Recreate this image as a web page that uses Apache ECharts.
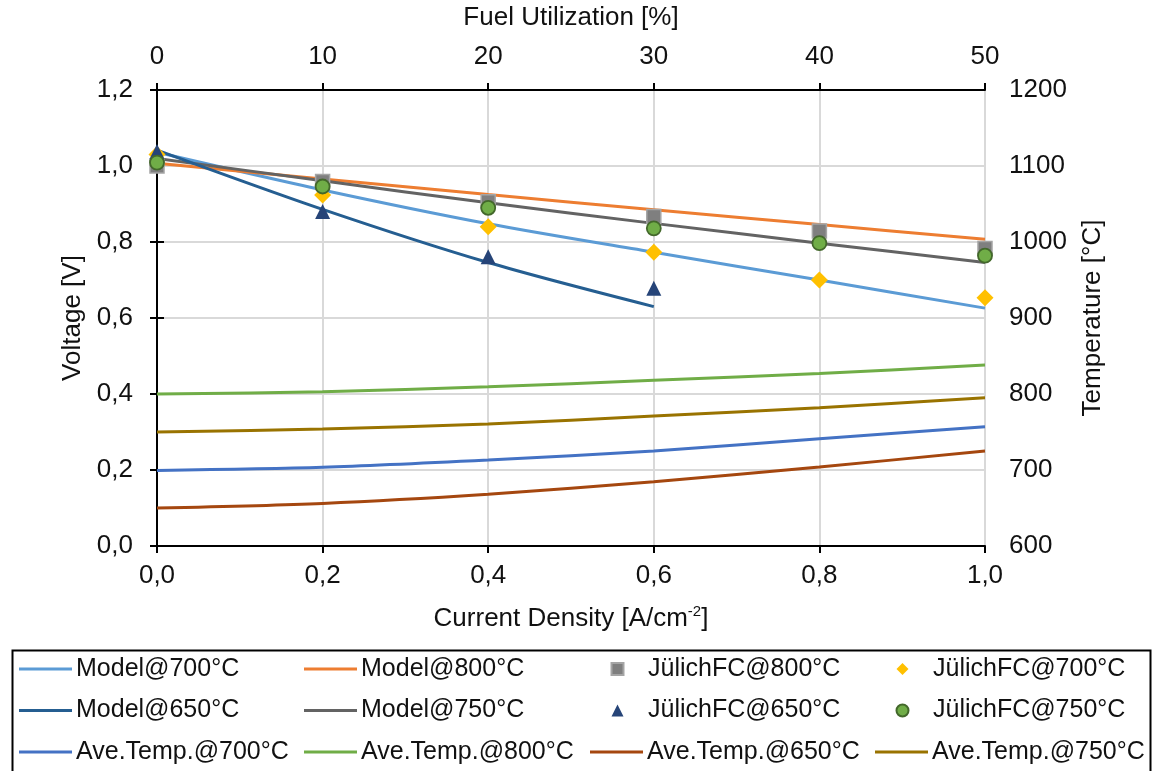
<!DOCTYPE html>
<html>
<head>
<meta charset="utf-8">
<script src="https://cdn.jsdelivr.net/npm/echarts@6/dist/echarts.min.js"></script>
<style>
  html, body { margin: 0; padding: 0; background: #fff; }
  #chart { width: 1158px; height: 771px; }
</style>
</head>
<body>
<div id="chart"></div>
<script>
// ---- Data ----
const currentDensity = [0, 0.2, 0.4, 0.6, 0.8, 1.0];
const currentDensity650 = [0, 0.2, 0.4, 0.6];

const model700 = [1.036, 0.937, 0.848, 0.773, 0.700, 0.626];
const model800 = [1.007, 0.966, 0.925, 0.885, 0.846, 0.807];
const model650 = [1.042, 0.886, 0.746, 0.630];
const model750 = [1.020, 0.961, 0.903, 0.849, 0.797, 0.746];

const julich800 = [1.000, 0.959, 0.906, 0.867, 0.829, 0.783];
const julich700 = [1.030, 0.924, 0.840, 0.773, 0.700, 0.653];
const julich650 = [1.038, 0.880, 0.761, 0.678];
const julich750 = [1.009, 0.946, 0.890, 0.836, 0.797, 0.764];

const aveTemp700 = [699.5, 703.5, 713, 725, 741, 757];
const aveTemp800 = [800, 803, 809.5, 818, 827, 838];
const aveTemp650 = [650, 656, 668, 684.5, 704, 725];
const aveTemp750 = [750, 754, 760.5, 771, 782, 795];

const xTicks = { min: 0, max: 1.0, interval: 0.2 };
const topTicks = { min: 0, max: 50, interval: 10 };
const leftTicks = { min: 0, max: 1.2, interval: 0.2 };
const rightTicks = { min: 600, max: 1200, interval: 100 };

// ---- Helpers ----
const pairs = (xs, ys) => ys.map((y, i) => [xs[i], y]);
const comma1 = v => v.toFixed(1).replace('.', ',');
const plain = v => String(Math.round(v));
const FONT = 'Liberation Sans, Arial, Helvetica, sans-serif';
const TXT = '#111';
const LINE_ICON = 'path://M0,0H53V3H0Z';

const axisLine = { show: true, lineStyle: { color: '#000', width: 2 } };
const axisTick = { show: true, inside: false, length: 7, lineStyle: { color: '#000', width: 2 } };

function lineSeries(name, xs, ys, color, yAxisIndex) {
  return {
    name, type: 'line', xAxisIndex: 0, yAxisIndex: yAxisIndex,
    data: pairs(xs, ys), symbol: 'none', smooth: 0.3,
    lineStyle: { color, width: 3 }, itemStyle: { color },
    z: 2
  };
}
function scatterSeries(name, xs, ys, symbol, size, color, border, bw) {
  return {
    name, type: 'scatter', xAxisIndex: 0, yAxisIndex: 0,
    data: pairs(xs, ys), symbol, symbolSize: size,
    itemStyle: { color, borderColor: border || color, borderWidth: bw || 0, opacity: 1 },
    z: 5
  };
}

const series = [
  lineSeries('Ave.Temp.@700°C', currentDensity, aveTemp700, '#4472C4', 1),
  lineSeries('Ave.Temp.@800°C', currentDensity, aveTemp800, '#70AD47', 1),
  lineSeries('Ave.Temp.@650°C', currentDensity, aveTemp650, '#A5470F', 1),
  lineSeries('Ave.Temp.@750°C', currentDensity, aveTemp750, '#997300', 1),
  lineSeries('Model@700°C', currentDensity, model700, '#5B9BD5', 0),
  lineSeries('Model@800°C', currentDensity, model800, '#ED7D31', 0),
  lineSeries('Model@750°C', currentDensity, model750, '#636363', 0),
  lineSeries('Model@650°C', currentDensity650, model650, '#255E91', 0),
  scatterSeries('JülichFC@800°C', currentDensity, julich800, 'rect', 14, '#7F7F7F', '#A5A5A5', 1.5),
  scatterSeries('JülichFC@700°C', currentDensity, julich700, 'diamond', 17, '#FFC000'),
  scatterSeries('JülichFC@650°C', currentDensity650, julich650, 'triangle', 15, '#264478'),
  scatterSeries('JülichFC@750°C', currentDensity, julich750, 'circle', 14, '#70AD47', '#43682B', 1.8)
];

const ROW_TOP = 654, ROW_STEP = 41.5;
const legendText = { fontFamily: FONT, fontSize: 25, color: TXT, lineHeight: 30 };

function lineLegend(left, top, names) {
  return {
    orient: 'vertical', left: left, top: top,
    itemWidth: 53, itemHeight: 12, itemGap: ROW_STEP - 30,
    selectedMode: false, padding: 0,
    textStyle: Object.assign({}, legendText, { padding: [0, 0, 0, -1] }),
    data: names.map(n => ({ name: n, icon: LINE_ICON }))
  };
}
function markerLegend(left, top, items) {
  return {
    orient: 'vertical', left: left + (53 - 12) / 2, top: top,
    itemWidth: 12, itemHeight: 12, itemGap: ROW_STEP - 30,
    selectedMode: false, padding: 0,
    textStyle: Object.assign({}, legendText, { padding: [0, 0, 0, (53 - 12) / 2 - 1] }),
    data: items.map(it => ({ name: it[0], icon: it[1] }))
  };
}

const option = {
  animation: false,
  backgroundColor: '#fff',
  grid: { left: 157, right: 173, top: 90, bottom: 225, containLabel: false },
  legend: [
    lineLegend(19, ROW_TOP, ['Model@700°C', 'Model@650°C', 'Ave.Temp.@700°C']),
    lineLegend(304, ROW_TOP, ['Model@800°C', 'Model@750°C', 'Ave.Temp.@800°C']),
    markerLegend(590, ROW_TOP, [['JülichFC@800°C', 'rect'], ['JülichFC@650°C', 'triangle']]),
    lineLegend(590, ROW_TOP + 2 * ROW_STEP, ['Ave.Temp.@650°C']),
    markerLegend(875, ROW_TOP, [['JülichFC@700°C', 'diamond'], ['JülichFC@750°C', 'circle']]),
    lineLegend(875, ROW_TOP + 2 * ROW_STEP, ['Ave.Temp.@750°C'])
  ],
  xAxis: [
    {
      type: 'value', position: 'bottom', min: xTicks.min, max: xTicks.max, interval: xTicks.interval,
      axisLine, axisTick,
      axisLabel: { formatter: comma1, fontFamily: FONT, fontSize: 26, color: TXT, margin: 17 },
      splitLine: { show: true, lineStyle: { color: '#D9D9D9', width: 2 } },
      name: 'Current Density [A/cm{sup|-2}]', nameLocation: 'middle', nameGap: 58,
      nameTextStyle: {
        fontFamily: FONT, fontSize: 26, color: TXT, lineHeight: 30,
        rich: { sup: { fontFamily: FONT, fontSize: 15, lineHeight: 17, verticalAlign: 'top', color: TXT } }
      }
    },
    {
      type: 'value', position: 'top', min: topTicks.min, max: topTicks.max, interval: topTicks.interval,
      axisLine, axisTick,
      axisLabel: { formatter: plain, fontFamily: FONT, fontSize: 26, color: TXT, margin: 20 },
      splitLine: { show: false },
      name: 'Fuel Utilization [%]', nameLocation: 'middle', nameGap: 59,
      nameTextStyle: { fontFamily: FONT, fontSize: 26, color: TXT }
    }
  ],
  yAxis: [
    {
      type: 'value', position: 'left', min: leftTicks.min, max: leftTicks.max, interval: leftTicks.interval,
      axisLine, axisTick,
      axisLabel: { formatter: comma1, fontFamily: FONT, fontSize: 26, color: TXT, margin: 24 },
      splitLine: { show: true, lineStyle: { color: '#D9D9D9', width: 2 } },
      name: 'Voltage [V]', nameLocation: 'middle', nameGap: 56, nameRotate: 90,
      nameTextStyle: { fontFamily: FONT, fontSize: 26, color: TXT }
    },
    {
      type: 'value', position: 'right', min: rightTicks.min, max: rightTicks.max, interval: rightTicks.interval,
      axisLine, axisTick,
      axisLabel: { formatter: plain, fontFamily: FONT, fontSize: 26, color: TXT, margin: 24 },
      splitLine: { show: false },
      name: 'Temperature [°C]', nameLocation: 'middle', nameGap: 95, nameRotate: 90,
      nameTextStyle: { fontFamily: FONT, fontSize: 26, color: TXT }
    }
  ],
  graphic: [
    {
      type: 'rect', left: 10, top: 648, silent: true, z: 100,
      shape: { width: 1138, height: 140 },
      style: { fill: 'none', stroke: '#000', lineWidth: 2 }
    }
  ],
  series
};

const chart = echarts.init(document.getElementById('chart'), null, { renderer: 'canvas' });
chart.setOption(option);
</script>
</body>
</html>
